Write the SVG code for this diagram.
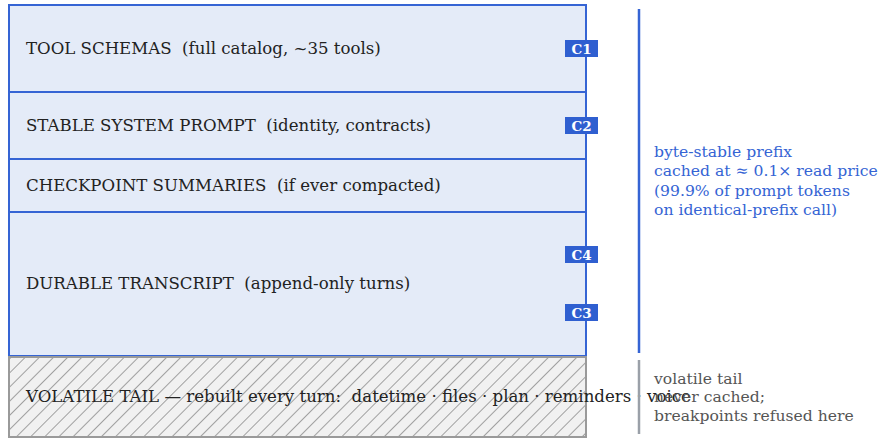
<svg xmlns="http://www.w3.org/2000/svg" width="881" height="438" viewBox="0 0 881 438">
<style>
.seg{fill:#e4ebf8;stroke:#3564d4;stroke-width:2}
.lbl{font-family:"DejaVu Serif",serif;font-size:16.6px;fill:#222;white-space:pre}
.badge rect{fill:#2f5fd0}
.badge text{font-family:"DejaVu Serif",serif;font-size:13.5px;font-weight:bold;fill:#fff;text-anchor:middle}
.note{font-family:"DejaVu Serif",serif;font-size:15.6px;white-space:pre}
</style>
<defs>
<pattern id="hatch" patternUnits="userSpaceOnUse" width="10" height="10" patternTransform="rotate(45)">
<rect width="10" height="10" fill="#f1f1f1"/>
<line x1="0" y1="0" x2="0" y2="10" stroke="#a0a0a0" stroke-width="2"/>
</pattern>
</defs>
<g id="tool-schemas"><rect class="seg" x="9" y="5" width="577" height="87"/><text class="lbl" x="26" y="54" xml:space="preserve">TOOL SCHEMAS  (full catalog, ~35 tools)</text></g>
<g id="stable-system-prompt"><rect class="seg" x="9" y="92" width="577" height="67"/><text class="lbl" x="26" y="131" xml:space="preserve">STABLE SYSTEM PROMPT  (identity, contracts)</text></g>
<g id="checkpoint-summaries"><rect class="seg" x="9" y="159" width="577" height="53"/><text class="lbl" x="26" y="191" xml:space="preserve">CHECKPOINT SUMMARIES  (if ever compacted)</text></g>
<g id="durable-transcript"><rect class="seg" x="9" y="212" width="577" height="144"/><text class="lbl" x="26" y="289" xml:space="preserve">DURABLE TRANSCRIPT  (append-only turns)</text></g>
<g id="volatile-tail"><rect x="9" y="357" width="577" height="80" fill="url(#hatch)" stroke="#9a9a9a" stroke-width="2"/><text class="lbl" x="26" y="402" xml:space="preserve">VOLATILE TAIL — rebuilt every turn:  datetime · files · plan · reminders · voice</text></g>
<g id="c1" class="badge"><rect x="565" y="40" width="33" height="17"/><text x="581.5" y="53.5">C1</text></g>
<g id="c2" class="badge"><rect x="565" y="117" width="33" height="17"/><text x="581.5" y="130.5">C2</text></g>
<g id="c4" class="badge"><rect x="565" y="246" width="33" height="17"/><text x="581.5" y="259.5">C4</text></g>
<g id="c3" class="badge"><rect x="565" y="304" width="33" height="17"/><text x="581.5" y="317.5">C3</text></g>
<g id="connectors">
<line x1="639" y1="9" x2="639" y2="353" stroke="#3564d4" stroke-width="2.5"/>
<line x1="639" y1="360" x2="639" y2="434" stroke="#9aa0a8" stroke-width="2.5"/>
</g>
<g id="prefix-note"><text class="note" fill="#3564d4" xml:space="preserve"><tspan x="654" y="157">byte-stable prefix</tspan><tspan x="654" y="176">cached at ≈ 0.1× read price</tspan><tspan x="654" y="196">(99.9% of prompt tokens</tspan><tspan x="654" y="215">on identical-prefix call)</tspan></text></g>
<g id="tail-note"><text class="note" fill="#555" xml:space="preserve"><tspan x="654" y="384">volatile tail</tspan><tspan x="654" y="402">never cached;</tspan><tspan x="654" y="421">breakpoints refused here</tspan></text></g>
</svg>
